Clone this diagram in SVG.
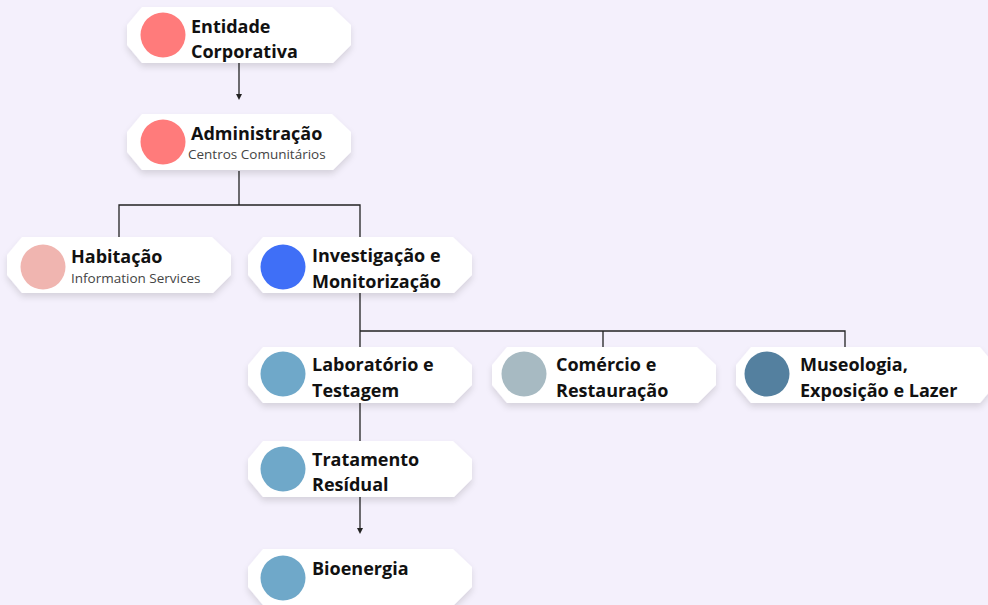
<svg xmlns="http://www.w3.org/2000/svg" width="988" height="605" viewBox="0 0 988 605">
<defs>
<filter id="sh" x="-10%" y="-20%" width="120%" height="160%">
<feDropShadow dx="0" dy="4" stdDeviation="3" flood-color="#000" flood-opacity="0.12"/>
</filter>
<marker id="ar" viewBox="0 0 6 6" refX="3" refY="3" markerWidth="6" markerHeight="6" orient="auto" markerUnits="userSpaceOnUse">
<path d="M0,0 L6,3 L0,6 Z" fill="#222"/>
</marker>
<path id="box" d="M15,0 H205 L224,18 V38 L206,56 H15 L0,38 V18 Z"/>
</defs>
<style>
.bg{fill:#f4f0fc}
.box{fill:#fff;filter:url(#sh)}
.t{font-family:"Open Sans","Noto Sans",sans-serif;font-weight:700;font-size:18px;fill:#111}
.s{font-family:"Open Sans","Noto Sans",sans-serif;font-size:13.5px;fill:#444}
.ln{fill:none;stroke:#222;stroke-width:1.3}
</style>
<rect class="bg" width="988" height="605"/>
<g id="connectors">
<path class="ln" d="M239,63 V97" marker-end="url(#ar)"/>
<path class="ln" d="M239,171 V205 M119,237 V205 H360 V237"/>
<path class="ln" d="M360,293 V331 M360,347 V331 H845 V347 M603,331 V347"/>
<path class="ln" d="M360,403 V441"/>
<path class="ln" d="M360,497 V531" marker-end="url(#ar)"/>
</g>
<g id="n1"><use href="#box" class="box" x="127" y="7"/><circle cx="163" cy="35" r="22.5" fill="#ff7b7b"/><text class="t" x="191" y="33">Entidade</text><text class="t" x="191" y="58">Corporativa</text></g>
<g id="n2"><use href="#box" class="box" x="127" y="114"/><circle cx="163" cy="142" r="22.5" fill="#ff7b7b"/><text class="t" x="191" y="140">Administração</text><text class="s" x="188" y="159">Centros Comunitários</text></g>
<g id="n3"><use href="#box" class="box" x="7" y="237"/><circle cx="43" cy="267" r="22.5" fill="#f0b5b0"/><text class="t" x="71" y="263">Habitação</text><text class="s" x="71" y="283">Information Services</text></g>
<g id="n4"><use href="#box" class="box" x="248" y="237"/><circle cx="283" cy="267" r="22.5" fill="#3f6ff7"/><text class="t" x="312" y="262">Investigação e</text><text class="t" x="312" y="288">Monitorização</text></g>
<g id="n5"><use href="#box" class="box" x="248" y="347"/><circle cx="283" cy="374" r="22.5" fill="#6fa8c9"/><text class="t" x="312" y="371">Laboratório e</text><text class="t" x="312" y="397">Testagem</text></g>
<g id="n6"><use href="#box" class="box" x="492" y="347"/><circle cx="524" cy="374" r="22.5" fill="#a7bac2"/><text class="t" x="556" y="371">Comércio e</text><text class="t" x="556" y="397">Restauração</text></g>
<g id="n7"><path class="box" d="M751,347 H980 L995,365 V385 L980,403 H751 L736,385 V365 Z"/><circle cx="767" cy="374" r="22.5" fill="#54809f"/><text class="t" x="800" y="371">Museologia,</text><text class="t" x="800" y="397">Exposição e Lazer</text></g>
<g id="n8"><use href="#box" class="box" x="248" y="441"/><circle cx="283" cy="469" r="22.5" fill="#6fa8c9"/><text class="t" x="312" y="466">Tratamento</text><text class="t" x="312" y="491">Resídual</text></g>
<g id="n9"><use href="#box" class="box" x="248" y="549"/><circle cx="283" cy="578" r="22.5" fill="#6fa8c9"/><text class="t" x="312" y="575">Bioenergia</text></g>
</svg>
